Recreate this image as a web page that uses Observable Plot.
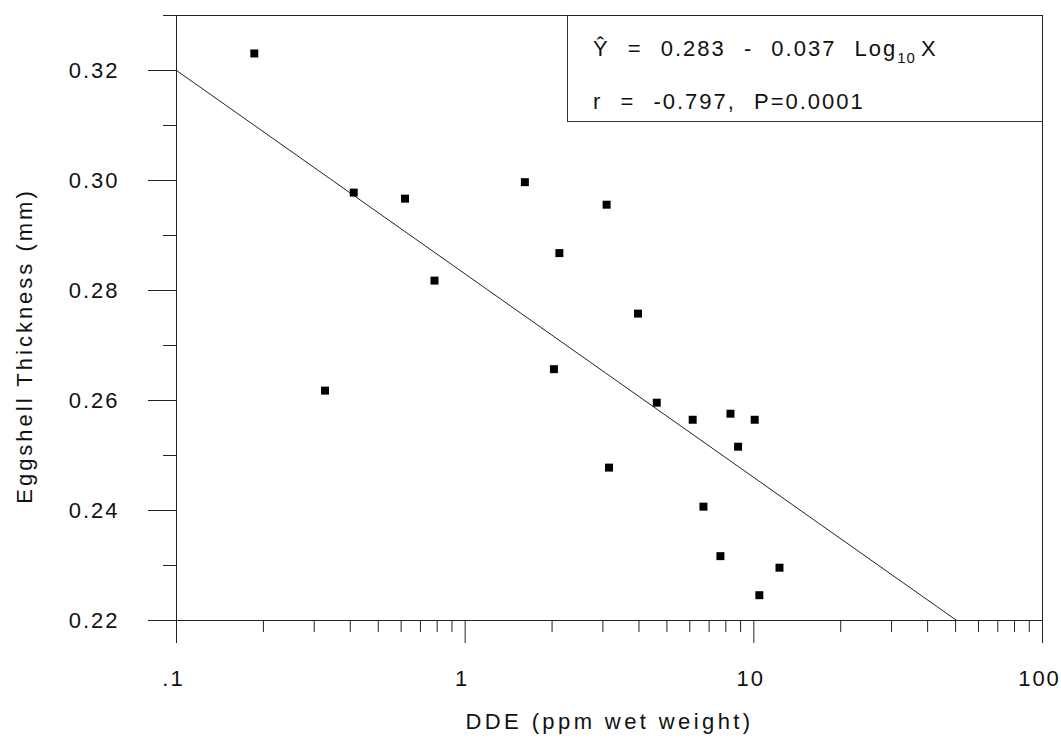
<!DOCTYPE html>
<html>
<head>
<meta charset="utf-8">
<script src="https://cdn.jsdelivr.net/npm/d3@7"></script>
<script src="https://cdn.jsdelivr.net/npm/@observablehq/plot@0.6"></script>
<style>
  html, body { margin: 0; padding: 0; background: #fff; }
  #wrap { position: relative; width: 1061px; height: 742px; font-family: "Liberation Sans", Arial, sans-serif; color: #111; }
  #chart svg { overflow: visible; }
  #eqbox { position: absolute; left: 567px; top: 15px; width: 475px; height: 107px; box-sizing: border-box;
           border-left: 1px solid #333; border-bottom: 1px solid #333; }
  .eqline { position: absolute; left: 593px; font-size: 22px; line-height: 22px; letter-spacing: 2px; word-spacing: 10px; white-space: pre; color: #111; }
  .sub { font-size: 15px; vertical-align: -7px; letter-spacing: 1px; }
  .xvar { margin-left: 5px; }
</style>
</head>
<body>
<div id="wrap">
  <div id="chart"></div>
  <div id="eqbox"></div>
  <div class="eqline" id="eq1" style="top:38px"></div>
  <div class="eqline" id="eq2" style="top:91px"></div>
</div>
<script>
// ---- data ----
const ddeValues = [0.186, 0.327, 0.411, 0.619, 0.783, 1.61, 2.03, 2.12, 3.09, 3.15, 3.97, 4.61, 6.14, 6.69, 7.66, 8.30, 8.82, 10.07, 10.45, 12.27];
const thicknessValues = [0.3231, 0.2618, 0.2978, 0.2967, 0.2818, 0.2997, 0.2657, 0.2868, 0.2956, 0.2478, 0.2758, 0.2596, 0.2565, 0.2407, 0.2317, 0.2576, 0.2516, 0.2565, 0.2246, 0.2296];

// regression: Y = 0.283 - 0.037 log10 X
const fitIntercept = 0.283;
const fitSlope = -0.037;
const rValue = "-0.797";
const pValue = "0.0001";

const xDomain = [0.1, 100];
const yDomain = [0.22, 0.33];
const xTickValues = [0.1, 1, 10, 100];
const xTickLabels = [".1", "1", "10", "100"];
const xMinorMultipliers = [2, 3, 4, 5, 6, 7, 8, 9];
const yTickValues = [0.22, 0.24, 0.26, 0.28, 0.30, 0.32];
const yMinorTicks = [0.23, 0.25, 0.27, 0.29, 0.31, 0.33];

const xLabel = "DDE (ppm wet weight)";
const yLabel = "Eggshell Thickness (mm)";

// ---- derived tables ----
const points = ddeValues.map((x, i) => ({x, y: thicknessValues[i]}));
const xMinorTicks = xTickValues.slice(0, -1).flatMap(d => xMinorMultipliers.map(m => d * m));
const xEnd = Math.pow(10, (yDomain[0] - fitIntercept) / fitSlope);
const fitLine = [xDomain[0], xEnd].map(x => ({x, y: fitIntercept + fitSlope * Math.log10(x)}));

const chart = Plot.plot({
  width: 1061,
  height: 742,
  marginLeft: 176,
  marginRight: 19,
  marginTop: 15,
  marginBottom: 122,
  style: {fontFamily: "'Liberation Sans', Arial, sans-serif", fontSize: "22px", letterSpacing: "2px", color: "#111", background: "transparent"},
  x: {type: "log", domain: xDomain, axis: null},
  y: {domain: yDomain, axis: null},
  marks: [
    Plot.frame({stroke: "#222", strokeWidth: 1}),
    Plot.axisX(xTickValues, {anchor: "bottom", tickSize: 23, tickFormat: () => "", label: null, stroke: "#222"}),
    Plot.text(xTickValues, {x: d => d, frameAnchor: "bottom", dy: 58, dx: -3, fontSize: 22, lineAnchor: "middle",
      text: d => xTickLabels[xTickValues.indexOf(d)], fill: "#111"}),
    Plot.axisX(xMinorTicks, {anchor: "bottom", tickSize: 12, tickFormat: () => "", label: null, stroke: "#222"}),
    Plot.axisY(yTickValues, {anchor: "left", tickSize: 28, tickPadding: 29, fontSize: 22,
      tickFormat: d3.format(".2f"), label: null, stroke: "#222"}),
    Plot.axisY(yMinorTicks, {anchor: "left", tickSize: 13, tickFormat: () => "", label: null, stroke: "#222"}),
    Plot.line(fitLine, {x: "x", y: "y", stroke: "#222", strokeWidth: 1}),
    Plot.dot(points, {x: "x", y: "y", symbol: "square", r: 4.5, fill: "#000", stroke: "none"}),
    Plot.text([xLabel], {frameAnchor: "bottom", textAnchor: "middle", dy: 101, fontSize: 22, lineAnchor: "middle", fill: "#111"}),
    Plot.text([yLabel], {frameAnchor: "left", textAnchor: "middle", rotate: -90, dx: -152, dy: 28, fontSize: 22, lineAnchor: "middle", fill: "#111"})
  ]
});
document.getElementById("chart").appendChild(chart);

d3.select(chart).selectAll("text")
  .filter(function() { return this.textContent === xLabel; })
  .style("letter-spacing", "3.4px");
d3.select(chart).selectAll("text")
  .filter(function() { return this.textContent === yLabel; })
  .style("letter-spacing", "3px");

document.getElementById("eq1").innerHTML =
  "\u0176 = " + fitIntercept.toFixed(3) + " - " + Math.abs(fitSlope).toFixed(3) + " Log<span class=\"sub\">10</span><span class=\"xvar\">X</span>";
document.getElementById("eq2").textContent = "r = " + rValue + ", P=" + pValue;
</script>
</body>
</html>
